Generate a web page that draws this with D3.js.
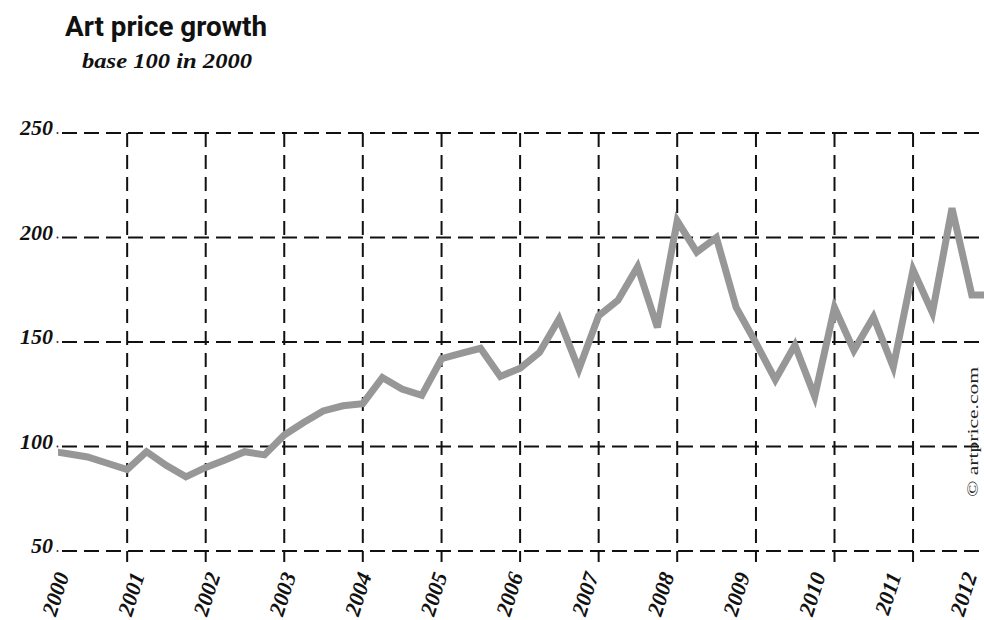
<!DOCTYPE html>
<html lang="en">
<head>
<meta charset="UTF-8">
<title>Art price growth</title>
<script src="https://d3js.org/d3.v7.min.js"></script>
<style>
  body { margin: 0; background: #fff; }
  .title { font-family: "Roboto", "Liberation Sans", sans-serif; font-weight: 700; font-size: 28px; fill: #111; }
  .subtitle { font-family: "Liberation Serif", "DejaVu Serif", serif; font-style: italic; font-weight: 700; font-size: 20px; fill: #111; }
  .tick-label { font-family: "Liberation Serif", "DejaVu Serif", serif; font-style: italic; font-weight: 700; font-size: 22px; fill: #111; }
  .credit { font-family: "Liberation Serif", "DejaVu Serif", serif; font-size: 15px; fill: #222; }
</style>
</head>
<body>
<div id="chart-container"></div>
<script>
// quarterly index, base 100 in 2000
const periods = [
  "2000-01","2000-04","2000-07","2000-10",
  "2001-01","2001-04","2001-07","2001-10",
  "2002-01","2002-04","2002-07","2002-10",
  "2003-01","2003-04","2003-07","2003-10",
  "2004-01","2004-04","2004-07","2004-10",
  "2005-01","2005-04","2005-07","2005-10",
  "2006-01","2006-04","2006-07","2006-10",
  "2007-01","2007-04","2007-07","2007-10",
  "2008-01","2008-04","2008-07","2008-10",
  "2009-01","2009-04","2009-07","2009-10",
  "2010-01","2010-04","2010-07","2010-10",
  "2011-01","2011-04","2011-07","2011-10",
  "2012-01"
];
const priceIndex = [
  98, 96.5, 95, 92,
  89, 97.5, 91, 85.5,
  90, 93.5, 97.5, 96,
  105.5, 111.5, 117, 119.5,
  120.5, 133, 127.5, 124.5,
  142, 144.5, 147, 133.5,
  137.5, 145, 161, 137,
  162.5, 170, 186, 157,
  208, 193, 200, 166.5,
  149.5, 132, 148.5, 124,
  166.5, 146, 162, 138,
  184.5, 164, 214, 172.5,
  172.5
];
const yearTicks = ["2000","2001","2002","2003","2004","2005","2006","2007","2008","2009","2010","2011","2012"];
const valueTicks = [50, 100, 150, 200, 250];

const W = 984, H = 620;
const plotLeft = 58, plotRight = 984;

const parseMonth = d3.timeParse("%Y-%m");
const parseYear = d3.timeParse("%Y");
const data = periods.map((p, i) => ({ date: parseMonth(p), value: priceIndex[i] }));

const svg = d3.select("#chart-container").append("svg")
  .attr("width", W).attr("height", H);

const x = d3.scaleTime()
  .domain([parseYear("2000"), parseYear("2012")])
  .range([48.4, 991.6]);

const y = d3.scaleLinear()
  .domain([50, 250])
  .range([551, 133]);

// year labels sit on their own evenly spaced row, a bit tighter than the grid
const xLabel = d3.scalePoint()
  .domain(yearTicks)
  .range([55, 963]);

// title
svg.append("text").attr("class", "title")
  .attr("x", 65).attr("y", 36)
  .attr("textLength", 202).attr("lengthAdjust", "spacingAndGlyphs")
  .text("Art price growth");
svg.append("text").attr("class", "subtitle")
  .attr("x", 82).attr("y", 68)
  .attr("textLength", 170).attr("lengthAdjust", "spacingAndGlyphs")
  .text("base 100 in 2000");

// horizontal grid
const hGrid = svg.append("g");
valueTicks.forEach(v => {
  hGrid.append("line")
    .attr("x1", plotLeft + 4).attr("x2", plotRight)
    .attr("y1", y(v)).attr("y2", y(v))
    .attr("stroke", "#111").attr("stroke-width", 2)
    .attr("stroke-dasharray", "15,7");
  hGrid.append("circle")
    .attr("cx", plotLeft - 0.5).attr("cy", y(v)).attr("r", 1)
    .attr("fill", "#333");
  hGrid.append("text").attr("class", "tick-label")
    .attr("x", 53).attr("y", y(v) + 2)
    .attr("text-anchor", "end")
    .text(v);
});

// vertical grid
const vGrid = svg.append("g");
yearTicks.slice(1).forEach(yr => {
  const xx = x(parseYear(yr));
  if (xx > plotRight) return;
  vGrid.append("line")
    .attr("x1", xx).attr("x2", xx)
    .attr("y1", y(250)).attr("y2", y(50) + 11)
    .attr("stroke", "#111").attr("stroke-width", 2)
    .attr("stroke-dasharray", "14,8");
});

// year labels, rotated
yearTicks.forEach(yr => {
  svg.append("text").attr("class", "tick-label")
    .attr("font-size", 19)
    .attr("transform", `translate(${xLabel(yr) + 7},${y(50) + 22}) rotate(-72)`)
    .attr("text-anchor", "end")
    .attr("dy", "0.35em")
    .text(yr);
});

// line
svg.append("clipPath").attr("id", "plot-clip")
  .append("rect")
  .attr("x", plotLeft).attr("y", 0)
  .attr("width", plotRight - plotLeft).attr("height", H);

svg.append("path")
  .datum(data)
  .attr("clip-path", "url(#plot-clip)")
  .attr("fill", "none")
  .attr("stroke", "#979797")
  .attr("stroke-width", 7)
  .attr("stroke-linejoin", "miter")
  .attr("d", d3.line()
    .x(d => x(d.date))
    .y(d => y(d.value)));

// credit
svg.append("text").attr("class", "credit")
  .attr("transform", "translate(978,497) rotate(-90)")
  .attr("textLength", 130).attr("lengthAdjust", "spacingAndGlyphs")
  .text("© artprice.com");
</script>
</body>
</html>
